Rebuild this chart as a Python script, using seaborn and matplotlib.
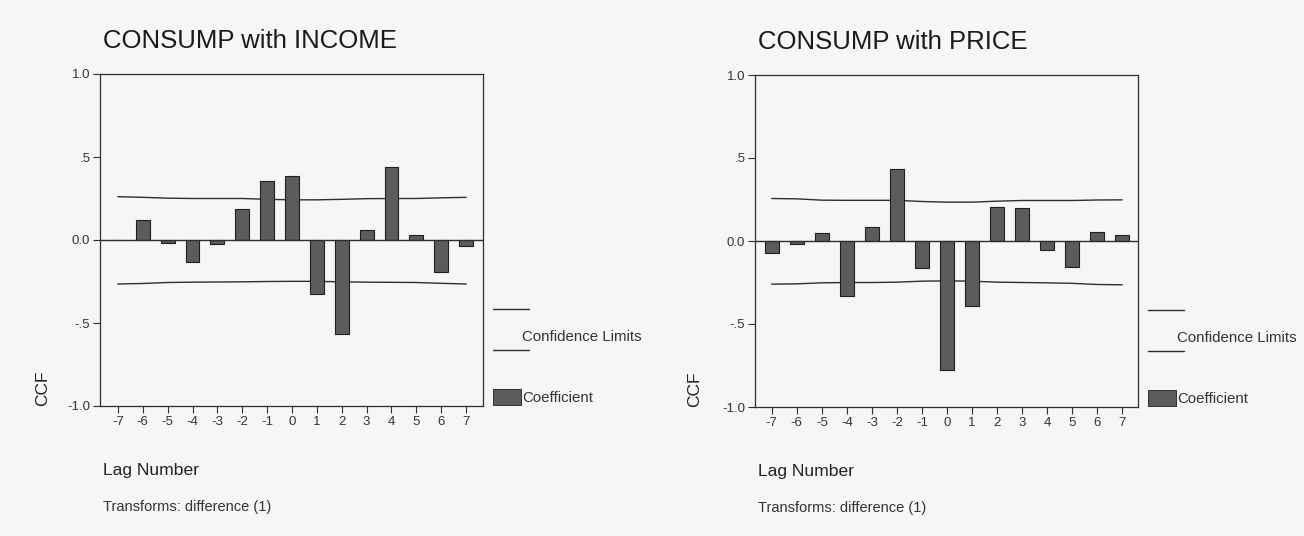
import matplotlib
matplotlib.use("Agg")
import matplotlib.pyplot as plt
import numpy as np
import pandas as pd
import seaborn as sns
from matplotlib.patches import Rectangle

# --- data ---
lags = [-7, -6, -5, -4, -3, -2, -1, 0, 1, 2, 3, 4, 5, 6, 7]

ccf_income = [0.0, 0.12, -0.02, -0.135, -0.026, 0.186, 0.358, 0.385,
              -0.326, -0.565, 0.061, 0.44, 0.028, -0.19, -0.036]
ci_income_upper = [0.261, 0.257, 0.252, 0.250, 0.250, 0.250, 0.245, 0.242,
                   0.242, 0.245, 0.249, 0.250, 0.250, 0.254, 0.257]
ci_income_lower = [-0.265, -0.262, -0.256, -0.254, -0.253, -0.252, -0.250, -0.249,
                   -0.249, -0.252, -0.254, -0.255, -0.256, -0.261, -0.265]

ccf_price = [-0.074, -0.016, 0.046, -0.33, 0.086, 0.436, -0.16, -0.78,
             -0.39, 0.204, 0.198, -0.054, -0.154, 0.056, 0.034]
ci_price_upper = [0.256, 0.254, 0.246, 0.245, 0.245, 0.245, 0.238, 0.234,
                  0.234, 0.240, 0.244, 0.244, 0.244, 0.247, 0.248]
ci_price_lower = [-0.260, -0.258, -0.252, -0.250, -0.250, -0.248, -0.242, -0.240,
                  -0.242, -0.248, -0.250, -0.252, -0.255, -0.262, -0.264]

titles = ["CONSUMP with INCOME", "CONSUMP with PRICE"]
yticks = [-1.0, -0.5, 0.0, 0.5, 1.0]
ytick_labels = ["-1.0", "-.5", "0.0", ".5", "1.0"]

BG = "#f6f6f6"
BAR = "#5c5c5c"
INK = "#2e2e2e"

sns.set_style("white")
plt.rcParams["font.family"] = ["Liberation Sans", "DejaVu Sans"]

fig = plt.figure(figsize=(13.04, 5.36), dpi=100, facecolor=BG)
ax_l = fig.add_axes([100 / 1304, 130 / 536, 383 / 1304, 332 / 536])
ax_r = fig.add_axes([755 / 1304, 129 / 536, 383 / 1304, 332 / 536])

panels = [
    (ax_l, ccf_income, ci_income_upper, ci_income_lower, titles[0], (-7.72, 7.68), -0.151),
    (ax_r, ccf_price, ci_price_upper, ci_price_lower, titles[1], (-7.67, 7.63), -0.157),
]

for ax, vals, up, lo, title, xlim, ccf_x in panels:
    ax.set_facecolor(BG)
    df = pd.DataFrame({"lag": lags, "ccf": vals, "up": up, "lo": lo})
    sns.barplot(data=df, x="lag", y="ccf", native_scale=True, width=0.56,
                color=BAR, saturation=1, edgecolor="#1e1e1e", linewidth=0.8,
                ax=ax, zorder=3)
    sns.lineplot(data=df, x="lag", y="up", color=INK, lw=1.0, ax=ax, zorder=2)
    sns.lineplot(data=df, x="lag", y="lo", color=INK, lw=1.0, ax=ax, zorder=2)
    ax.axhline(0, color=INK, lw=1.0, zorder=4)

    ax.set_xlim(*xlim)
    ax.set_ylim(-1.0, 1.0)
    ax.set_xticks(lags)
    ax.set_xticklabels([str(v) for v in lags])
    ax.set_yticks(yticks)
    ax.set_yticklabels(ytick_labels)
    ax.tick_params(axis="both", labelsize=9.5, length=5, width=0.8,
                   color=INK, labelcolor="#333333", pad=2, direction="out")
    ax.tick_params(axis="x", bottom=True)
    ax.tick_params(axis="y", left=True)
    ax.set_xlabel("")
    ax.set_ylabel("")
    for sp in ax.spines.values():
        sp.set_visible(True)
        sp.set_color(INK)
        sp.set_linewidth(0.9)

    ax.text(0.008, 1.10, title, transform=ax.transAxes, fontsize=18.5,
            color="#1a1a1a", ha="left", va="center")
    ax.text(ccf_x, 0.054, "CCF", transform=ax.transAxes, fontsize=12.5,
            rotation=90, ha="center", va="center", color="#222222")
    ax.text(0.008, -0.193, "Lag Number", transform=ax.transAxes, fontsize=12.6,
            ha="left", va="center", color="#222222")
    ax.text(0.008, -0.304, "Transforms: difference (1)", transform=ax.transAxes,
            fontsize=10.5, ha="left", va="center", color="#333333")

    # legend, drawn beside the frame like the original
    ax.plot([1.026, 1.12], [0.292, 0.292], transform=ax.transAxes, color=INK,
            lw=1.0, clip_on=False)
    ax.plot([1.026, 1.12], [0.168, 0.168], transform=ax.transAxes, color=INK,
            lw=1.0, clip_on=False)
    ax.text(1.103, 0.208, "Confidence Limits", transform=ax.transAxes,
            fontsize=10.8, ha="left", va="center", color="#333333")
    ax.add_patch(Rectangle((1.026, 0.004), 0.074, 0.046, transform=ax.transAxes,
                           facecolor=BAR, edgecolor="#1e1e1e", lw=0.6,
                           clip_on=False))
    ax.text(1.103, 0.024, "Coefficient", transform=ax.transAxes,
            fontsize=10.8, ha="left", va="center", color="#333333")

fig.savefig("out.png", dpi=100, facecolor=BG)
